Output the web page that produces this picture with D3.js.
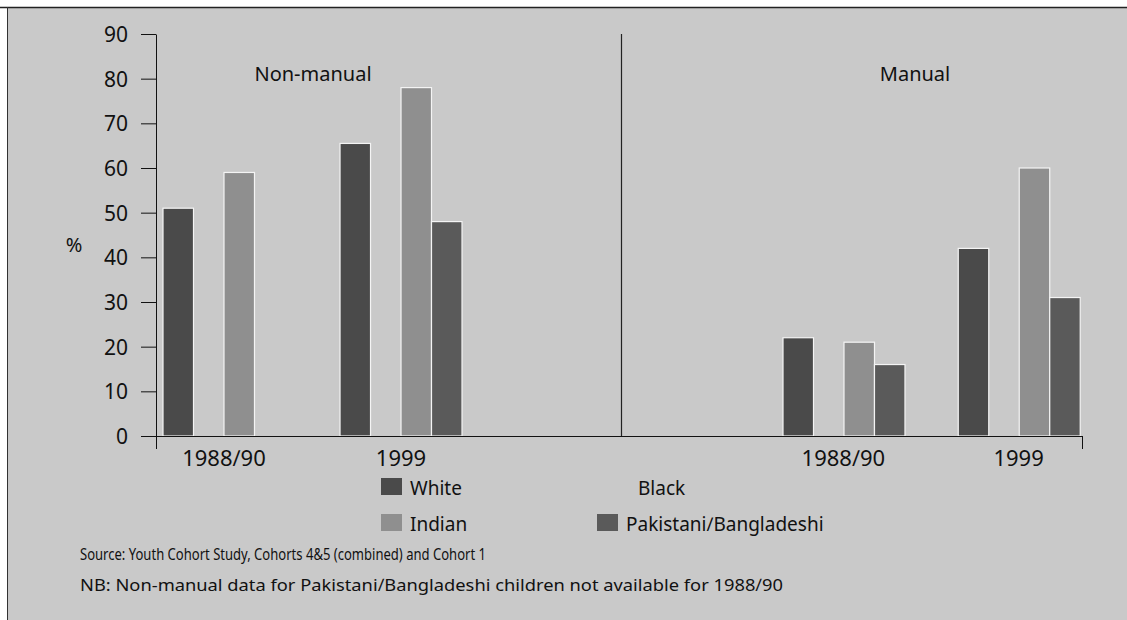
<!DOCTYPE html>
<html>
<head>
<meta charset="utf-8">
<script src="https://cdn.jsdelivr.net/npm/d3@7"></script>
<style>
  body { margin: 0; background: #fff; }
  svg text { font-family: "Noto Sans", "Open Sans", sans-serif; fill: #111; }
</style>
</head>
<body>
<svg id="chart" width="1127" height="620"></svg>
<script>
// data
const panels = ["Non-manual", "Manual"];
const years = ["1988/90", "1999"];
const series = ["White", "Black", "Indian", "Pakistani/Bangladeshi"];
// order: Non-manual 1988/90, Non-manual 1999, Manual 1988/90, Manual 1999
const whiteValues = [51, 65.5, 22, 42];
const blackValues = [null, null, null, null];
const indianValues = [59, 78, 21, 60];
const pakValues = [null, 48, 16, 31];
const yTicks = [0, 10, 20, 30, 40, 50, 60, 70, 80, 90];

const svg = d3.select('#chart');
const W = 1127, H = 620;

const colors = {
  "White": "#4a4a4a",
  "Black": "#c9c9c9",
  "Indian": "#8f8f8f",
  "Pakistani/Bangladeshi": "#5a5a5a"
};

// background
svg.append('rect').attr('x', 7).attr('y', 7).attr('width', W - 7).attr('height', H - 7).attr('fill', '#c9c9c9');
svg.append('line').attr('x1', 0).attr('x2', W).attr('y1', 7.5).attr('y2', 7.5).attr('stroke', '#222').attr('stroke-width', 1.5);
svg.append('line').attr('x1', 7.5).attr('x2', 7.5).attr('y1', 7).attr('y2', H).attr('stroke', '#333').attr('stroke-width', 1);

// scales
const y = d3.scaleLinear().domain([0, 90]).range([436, 34]);
const panelX = d3.scaleBand().domain(panels).range([156, 1082]);
// the two panels place their year groups differently
const yearX = {
  "Non-manual": d3.scaleBand().domain(years).range([7, 306]).paddingInner(0.311),
  "Manual": d3.scaleBand().domain(years).range([164, 460]).paddingInner(0.311)
};
const seriesX = d3.scaleBand().domain(series).range([0, yearX["Non-manual"].bandwidth()]);

const table = [];
const allValues = { "White": whiteValues, "Black": blackValues, "Indian": indianValues, "Pakistani/Bangladeshi": pakValues };
panels.forEach((p, pi) => {
  years.forEach((yr, yi) => {
    series.forEach(s => {
      const v = allValues[s][pi * 2 + yi];
      if (v != null) table.push({ panel: p, year: yr, series: s, value: v });
    });
  });
});

// bars
svg.append('g').selectAll('rect')
  .data(table)
  .enter()
  .append('rect')
  .attr('x', d => panelX(d.panel) + yearX[d.panel](d.year) + seriesX(d.series))
  .attr('y', d => y(d.value))
  .attr('width', seriesX.bandwidth())
  .attr('height', d => y(0) - y(d.value))
  .attr('fill', d => colors[d.series])
  .attr('stroke', '#f4f4f4')
  .attr('stroke-width', 1.2);

// y axis
const yAxis = svg.append('g')
  .attr('transform', 'translate(156,0)')
  .call(d3.axisLeft(y).tickValues(yTicks).tickSize(15).tickSizeOuter(0).tickPadding(13));
yAxis.selectAll('text').style('font-size', '21px').attr('dy', '0.36em');
yAxis.selectAll('line, path').attr('stroke', '#111');

// x axis line with end ticks
svg.append('line').attr('x1', 156).attr('x2', panelX.range()[1]).attr('y1', y(0) + 0.5).attr('y2', y(0) + 0.5).attr('stroke', '#111');
[156, panelX.range()[1]].forEach(x => {
  svg.append('line').attr('x1', x + 0.5).attr('x2', x + 0.5).attr('y1', y(0)).attr('y2', y(0) + 13).attr('stroke', '#111');
});

// divider
svg.append('line').attr('x1', panelX('Manual') + 2.5).attr('x2', panelX('Manual') + 2.5)
  .attr('y1', y(90)).attr('y2', y(0)).attr('stroke', '#222').attr('stroke-width', 1.2);

// year labels
panels.forEach(p => {
  svg.append('g').selectAll('text')
    .data(years)
    .enter()
    .append('text')
    .attr('x', d => panelX(p) + yearX[p](d) + yearX[p].bandwidth() / 2)
    .attr('y', 466)
    .attr('text-anchor', 'middle')
    .style('font-size', '22px')
    .text(d => d.replace('/', '\u2215'));
});

// panel titles
svg.append('text').attr('x', 313).attr('y', 81).attr('text-anchor', 'middle').style('font-size', '20px').text('Non-manual');
svg.append('text').attr('x', 915).attr('y', 81).attr('text-anchor', 'middle').style('font-size', '20px').text('Manual');

// % label
svg.append('text').attr('x', 74).attr('y', 252).attr('text-anchor', 'middle').style('font-size', '20px').text('%');

// legend
const legendPos = [
  { s: "White", x: 381, y: 478, tx: 410 },
  { s: "Black", x: 609, y: 478, tx: 638 },
  { s: "Indian", x: 381, y: 514, tx: 410 },
  { s: "Pakistani/Bangladeshi", x: 597, y: 514, tx: 626 }
];
const legend = svg.append('g').selectAll('g')
  .data(legendPos)
  .enter()
  .append('g');
legend.append('rect')
  .attr('x', d => d.x)
  .attr('y', d => d.y)
  .attr('width', 21)
  .attr('height', 17)
  .attr('fill', d => colors[d.s]);
legend.append('text')
  .attr('x', d => d.tx)
  .attr('y', d => d.y + 17)
  .style('font-size', '19px')
  .text(d => d.s.replace('/', '\u2215'));

// notes
svg.append('text').attr('x', 80).attr('y', 560).style('font-size', '17px')
  .attr('textLength', 406).attr('lengthAdjust', 'spacingAndGlyphs')
  .text('Source:  Youth Cohort Study, Cohorts 4&5 (combined) and Cohort 1');
svg.append('text').attr('x', 80).attr('y', 591).style('font-size', '17px')
  .attr('textLength', 703).attr('lengthAdjust', 'spacingAndGlyphs')
  .text('NB: Non-manual data for Pakistani\u2215Bangladeshi children not available for 1988\u221590');
</script>
</body>
</html>
